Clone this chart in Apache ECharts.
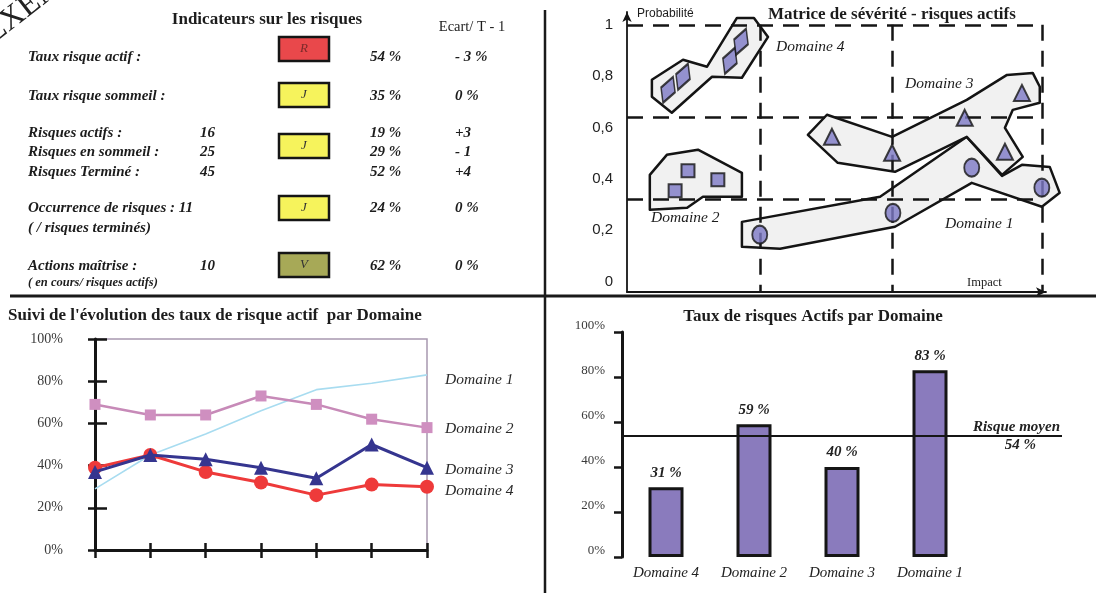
<!DOCTYPE html>
<html>
<head>
<meta charset="utf-8">
<script src="https://cdn.jsdelivr.net/npm/echarts@6/dist/echarts.min.js"></script>
<style>
  html, body { margin: 0; padding: 0; background: #fff; }
  #c { width: 1096px; height: 602px; }
</style>
</head>
<body>
<div id="c"></div>
<script>
// ---- Tableau des indicateurs ----
const indicatorNames = ['Taux risque actif :', 'Taux risque sommeil :', 'Risques actifs :', 'Risques en sommeil :', 'Risques Terminé :', 'Occurrence de risques : 11', 'Actions maîtrise :'];
const indicatorCounts = ['', '', '16', '25', '45', '', '10'];
const indicatorRates = ['54 %', '35 %', '19 %', '29 %', '52 %', '24 %', '62 %'];
const indicatorGaps = ['- 3 %', '0 %', '+3', '- 1', '+4', '0 %', '0 %'];
const indicatorNotes = ['( / risques terminés)', '( en cours/ risques actifs)'];
const statusLetters = ['R', 'J', 'J', 'J', 'V'];

// ---- Matrice de sévérité (impact, probabilité) ----
const severityThresholds = [0.32, 0.64];
const probabilityTicks = [0, 0.2, 0.4, 0.6, 0.8, 1];
const domaine1Risks = [[0.320, 0.183], [0.641, 0.268], [0.831, 0.444], [1.000, 0.366]];
const domaine2Risks = [[0.147, 0.432], [0.219, 0.397], [0.116, 0.354]];
const domaine3Risks = [[0.494, 0.564], [0.639, 0.502], [0.814, 0.638], [0.911, 0.506], [0.952, 0.735]];
const domaine4Risks = [[0.099, 0.747], [0.135, 0.798], [0.248, 0.860], [0.275, 0.934]];
const domaine1Zone = [[0.277, 0.233], [0.610, 0.331], [0.819, 0.564], [0.904, 0.412], [0.952, 0.455], [1.019, 0.447], [1.043, 0.346], [1.000, 0.292], [0.831, 0.385], [0.646, 0.214], [0.369, 0.128], [0.277, 0.136]];
const domaine2Zone = [[0.055, 0.416], [0.096, 0.494], [0.171, 0.514], [0.277, 0.424], [0.277, 0.331], [0.183, 0.331], [0.145, 0.288], [0.055, 0.280]];
const domaine3Zone = [[0.482, 0.650], [0.639, 0.564], [0.819, 0.708], [0.916, 0.805], [0.978, 0.813], [0.995, 0.759], [0.995, 0.697], [0.930, 0.669], [0.911, 0.599], [0.954, 0.486], [0.904, 0.416], [0.819, 0.564], [0.646, 0.428], [0.508, 0.463], [0.436, 0.572]];
const domaine4Zone = [[0.060, 0.786], [0.135, 0.864], [0.193, 0.837], [0.265, 1.027], [0.306, 1.027], [0.340, 0.953], [0.277, 0.794], [0.205, 0.798], [0.108, 0.658], [0.060, 0.720]];

// ---- Evolution des taux de risque actif ----
const periods = ['T-6', 'T-5', 'T-4', 'T-3', 'T-2', 'T-1', 'T'];
const domaine1Rates = [29, 45, 55, 66, 76, 79, 83];
const domaine2Rates = [69, 64, 64, 73, 69, 62, 58];
const domaine3Rates = [37, 45, 43, 39, 34, 50, 39];
const domaine4Rates = [39, 45, 37, 32, 26, 31, 30];

// ---- Taux de risques actifs par domaine ----
const barDomains = ['Domaine 4', 'Domaine 2', 'Domaine 3', 'Domaine 1'];
const barRates = [31, 59, 40, 83];
const riskAverage = 54;

const SERIF = '"Liberation Serif","Times New Roman",serif';
const SANS = '"Liberation Sans",Arial,sans-serif';
function font(size, bold, italic, family) {
  return (italic ? 'italic ' : '') + (bold ? 'bold ' : '') + size + 'px ' + (family || SERIF);
}
function text(x, y, s, f, extra) {
  return {
    type: 'text', x: x, y: y, silent: true, z: 20,
    style: Object.assign({ text: s, font: f, fill: '#1c1c1c', align: 'left', verticalAlign: 'middle' }, extra || {})
  };
}

const graphics = [];
// separators
graphics.push({ type: 'line', silent: true, z: 20, shape: { x1: 10, y1: 296, x2: 1096, y2: 296 }, style: { stroke: '#1a1a1a', lineWidth: 3 } });
graphics.push({ type: 'line', silent: true, z: 20, shape: { x1: 545, y1: 10, x2: 545, y2: 593 }, style: { stroke: '#1a1a1a', lineWidth: 2.5 } });
// stamp
graphics.push({ type: 'text', x: -2, y: 50, rotation: 0.66, silent: true, z: 20,
  style: { text: 'EXEMPLE', font: font(32, false, false), fill: '#222', align: 'left', verticalAlign: 'bottom' } });

// indicator table
graphics.push(text(267, 20, 'Indicateurs sur les risques', font(17, true, false), { align: 'center' }));
graphics.push(text(472, 27, 'Ecart/ T - 1', font(14.5, false, false), { align: 'center' }));
const rowY = [57, 96, 133, 152, 172, 208, 266];
indicatorNames.forEach(function (n, i) {
  graphics.push(text(28, rowY[i], n, font(15, true, true)));
  if (indicatorCounts[i]) graphics.push(text(200, rowY[i], indicatorCounts[i], font(15, true, true)));
  graphics.push(text(370, rowY[i], indicatorRates[i], font(15, true, true)));
  graphics.push(text(455, rowY[i], indicatorGaps[i], font(15, true, true)));
});
graphics.push(text(28, 228, indicatorNotes[0], font(15, true, true)));
graphics.push(text(28, 283, indicatorNotes[1], font(12.5, true, true)));
const boxY = [49, 95, 146, 208, 265];
const statusFill = { R: '#e9484b', J: '#f6f35c', V: '#a7a957' };
statusLetters.forEach(function (l, i) {
  graphics.push({ type: 'rect', silent: true, z: 20, shape: { x: 279, y: boxY[i] - 12, width: 50, height: 24 },
    style: { fill: statusFill[l], stroke: '#151515', lineWidth: 2.5 } });
  graphics.push(text(304, boxY[i], l, font(13, false, true), { align: 'center', fill: l === 'R' ? '#7a2a2a' : '#333' }));
});

// severity matrix texts
graphics.push(text(768, 15, 'Matrice de sévérité - risques actifs', font(17, true, false)));
graphics.push(text(637, 14, 'Probabilité', font(12, false, false, SANS)));
graphics.push(text(967, 283, 'Impact', font(12.5, false, false)));
graphics.push(text(776, 47, 'Domaine 4', font(15.5, false, true)));
graphics.push(text(905, 84, 'Domaine 3', font(15.5, false, true)));
graphics.push(text(651, 218, 'Domaine 2', font(15.5, false, true)));
graphics.push(text(945, 224, 'Domaine 1', font(15.5, false, true)));

// chart titles
graphics.push(text(8, 316, "Suivi de l'évolution des taux de risque actif  par Domaine", font(17, true, false)));
graphics.push(text(813, 317, 'Taux de risques Actifs par Domaine', font(17, true, false), { align: 'center' }));

function zoneSeries(points) {
  return {
    type: 'custom', xAxisIndex: 0, yAxisIndex: 0, z: 2, silent: true, clip: false,
    data: points,
    renderItem: function (params, api) {
      if (params.dataIndex !== 0) return null;
      return {
        type: 'polygon',
        shape: { points: points.map(function (p) { return api.coord(p); }) },
        style: { fill: '#f1f1f1', stroke: '#141414', lineWidth: 2.5, lineJoin: 'round' }
      };
    }
  };
}
const riskStyle = { color: '#7d79c6', borderColor: '#141414', borderWidth: 2 };
function riskSeries(points, symbol, size) {
  return {
    type: 'scatter', xAxisIndex: 0, yAxisIndex: 0, z: 6, silent: true,
    symbol: symbol, symbolSize: size,
    itemStyle: riskStyle, data: points
  };
}
// slanted lozenge used for the Domaine 4 risks
const slantedDiamond = 'path://M14.8,0.8 L16.6,16.4 L5.2,27.2 L3.4,11.6 Z';

const t0 = severityThresholds[0], t1 = severityThresholds[1];
const dashed = { type: [16, 10], width: 2.5, color: '#151515' };

const lineLabel = function (dy) {
  return { show: true, formatter: '{a}', distance: 18, offset: [0, dy], color: '#2a2a2a',
    fontFamily: SERIF, fontStyle: 'italic', fontSize: 15.5 };
};

const option = {
  animation: false,
  backgroundColor: '#ffffff',
  graphic: graphics,
  grid: [
    { left: 627, top: 12, width: 419, height: 280 },
    { left: 95, top: 339, width: 332, height: 211, show: true, borderColor: '#a898b0', borderWidth: 1.5 },
    { left: 622, top: 332, width: 352, height: 225 }
  ],
  xAxis: [
    { gridIndex: 0, type: 'value', min: 0, max: 1.01,
      axisLine: { onZero: false, symbol: ['none', 'arrow'], symbolSize: [7, 10], lineStyle: { color: '#151515', width: 1.8 } },
      axisTick: { show: false }, axisLabel: { show: false }, splitLine: { show: false } },
    { gridIndex: 1, type: 'category', position: 'bottom', data: periods, boundaryGap: false,
      axisLine: { lineStyle: { color: '#151515', width: 3 } },
      axisTick: { show: true, interval: 0, length: 8, lineStyle: { color: '#151515', width: 2.5 } },
      axisLabel: { show: false }, splitLine: { show: false } },
    { gridIndex: 1, type: 'category', position: 'bottom', data: periods, boundaryGap: false,
      axisLine: { show: false },
      axisTick: { show: true, inside: true, interval: 0, length: 7, lineStyle: { color: '#151515', width: 2.5 } },
      axisLabel: { show: false }, splitLine: { show: false } },
    { gridIndex: 2, type: 'category', data: barDomains,
      axisLine: { show: false }, axisTick: { show: false },
      axisLabel: { margin: 9, color: '#222', fontFamily: SERIF, fontStyle: 'italic', fontSize: 15 } }
  ],
  yAxis: [
    { gridIndex: 0, type: 'value', min: -0.04, max: 1.05,
      axisLine: { symbol: ['none', 'arrow'], symbolSize: [7, 10], lineStyle: { color: '#151515', width: 1.8 } },
      axisTick: { show: false }, splitLine: { show: false },
      axisLabel: { customValues: probabilityTicks, margin: 14, color: '#222', fontFamily: SANS, fontSize: 15,
        formatter: function (v) { return String(+v.toFixed(2)).replace('.', ','); } } },
    { gridIndex: 1, type: 'value', position: 'left', min: 0, max: 100, interval: 20,
      axisLine: { show: true, lineStyle: { color: '#151515', width: 3 } },
      axisTick: { show: true, length: 7, lineStyle: { color: '#151515', width: 2.5 } },
      axisLabel: { formatter: '{value}%', margin: 32, color: '#3a3a3a', fontFamily: SERIF, fontSize: 14 },
      splitLine: { show: false } },
    { gridIndex: 1, type: 'value', position: 'left', min: 0, max: 100, interval: 20,
      axisLine: { show: false },
      axisTick: { show: true, inside: true, length: 12, lineStyle: { color: '#151515', width: 2.5 } },
      axisLabel: { show: false }, splitLine: { show: false } },
    { gridIndex: 2, type: 'value', min: 0, max: 100, interval: 20,
      axisLine: { show: true, lineStyle: { color: '#151515', width: 3 } },
      axisTick: { show: true, length: 8, lineStyle: { color: '#151515', width: 2.5 } },
      axisLabel: { formatter: '{value}%', margin: 17, verticalAlign: 'bottom', color: '#3a3a3a', fontFamily: SERIF, fontSize: 13 },
      splitLine: { show: false } }
  ],
  series: [
    zoneSeries(domaine1Zone),
    zoneSeries(domaine3Zone),
    zoneSeries(domaine2Zone),
    zoneSeries(domaine4Zone),
    {
      type: 'scatter', xAxisIndex: 0, yAxisIndex: 0, z: 3, silent: true, data: [],
      markLine: {
        silent: true, z: 3, symbol: 'none', label: { show: false }, lineStyle: dashed, animation: false,
        data: [
          [{ coord: [0, 1] }, { coord: [1, 1] }],
          [{ coord: [1, 1] }, { coord: [1, -0.04] }],
          [{ coord: [0, t1] }, { coord: [1, t1] }],
          [{ coord: [0, t0] }, { coord: [1, t0] }],
          [{ coord: [t0, 1] }, { coord: [t0, -0.04] }],
          [{ coord: [t1, 1] }, { coord: [t1, -0.04] }]
        ]
      }
    },
    riskSeries(domaine4Risks, slantedDiamond, [14, 26]),
    riskSeries(domaine2Risks, 'rect', 13),
    riskSeries(domaine3Risks, 'triangle', 16),
    riskSeries(domaine1Risks, 'circle', [15, 18]),

    { name: 'Domaine 1', type: 'line', xAxisIndex: 1, yAxisIndex: 1, data: domaine1Rates,
      showSymbol: false, symbol: 'none', lineStyle: { color: '#a8dcf0', width: 1.6 }, z: 3,
      endLabel: lineLabel(5) },
    { name: 'Domaine 2', type: 'line', xAxisIndex: 1, yAxisIndex: 1, data: domaine2Rates,
      symbol: 'rect', symbolSize: 11, itemStyle: { color: '#cf8fc0' }, lineStyle: { color: '#c78ab8', width: 2.5 }, z: 4,
      endLabel: lineLabel(1) },
    { name: 'Domaine 3', type: 'line', xAxisIndex: 1, yAxisIndex: 1, data: domaine3Rates,
      symbol: 'triangle', symbolSize: 14, itemStyle: { color: '#35358f' }, lineStyle: { color: '#35358f', width: 3 }, z: 5,
      endLabel: lineLabel(2) },
    { name: 'Domaine 4', type: 'line', xAxisIndex: 1, yAxisIndex: 1, data: domaine4Rates,
      symbol: 'circle', symbolSize: 14, itemStyle: { color: '#ee3a3a' }, lineStyle: { color: '#ee3a3a', width: 3 }, z: 4,
      endLabel: lineLabel(4) },

    { type: 'bar', xAxisIndex: 3, yAxisIndex: 3, data: barRates, barWidth: 35, z: 3,
      itemStyle: { color: '#8a7bbd', borderColor: '#151515', borderWidth: 3 },
      label: { show: true, position: 'top', distance: 7, formatter: '{c} %', color: '#222',
        fontFamily: SERIF, fontStyle: 'italic', fontWeight: 'bold', fontSize: 15 },
      markLine: {
        silent: true, symbol: 'none', animation: false,
        lineStyle: { type: 'solid', color: '#151515', width: 2 },
        label: {
          show: true, position: 'insideEnd', distance: 2,
          formatter: function () { return '{a|Risque moyen}\n{b|' + riskAverage + ' %}'; },
          rich: {
            a: { fontFamily: SERIF, fontStyle: 'italic', fontWeight: 'bold', fontSize: 15, color: '#222', lineHeight: 20 },
            b: { fontFamily: SERIF, fontStyle: 'italic', fontWeight: 'bold', fontSize: 15, color: '#222', lineHeight: 17, padding: [0, 24, 0, 0] }
          }
        },
        data: [[{ x: 622, yAxis: riskAverage }, { x: 1062, yAxis: riskAverage }]]
      }
    }
  ]
};

const chart = echarts.init(document.getElementById('c'), null, { renderer: 'canvas' });
chart.setOption(option);
</script>
</body>
</html>
